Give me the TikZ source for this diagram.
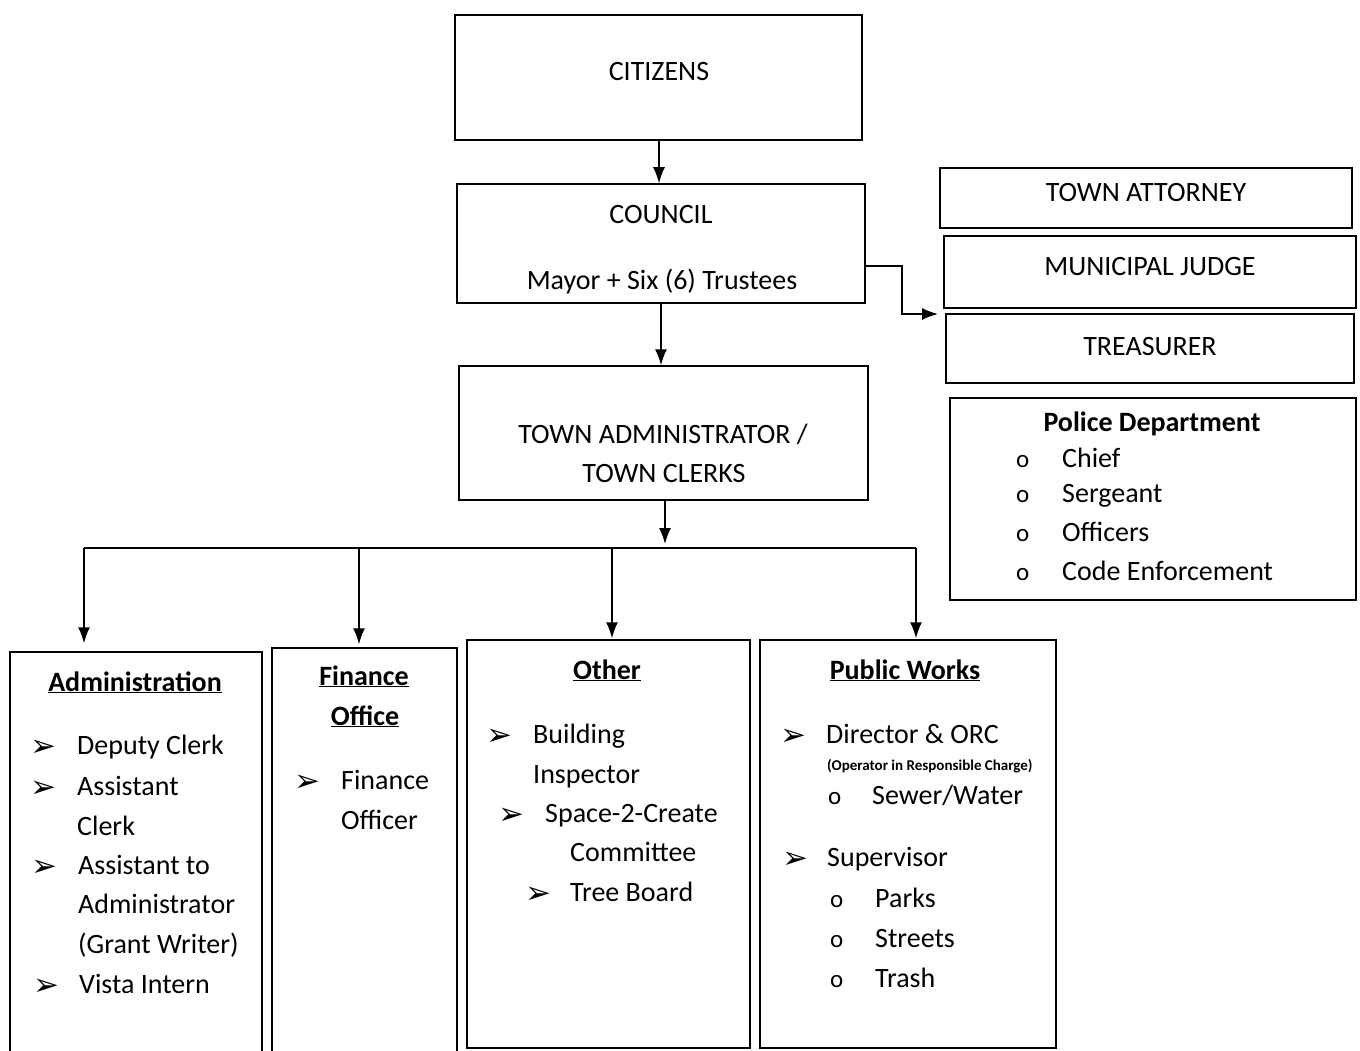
\documentclass[tikz,border=0pt]{standalone}
\usepackage{fontspec}
\setmainfont{Carlito}
\newfontfamily\symfont{DejaVu Sans}
\usetikzlibrary{arrows.meta}
\tikzset{
  box/.style={draw, line width=1.5pt, rectangle, inner sep=0pt},
  txt/.style={inner sep=0pt, font=\fontsize{28}{32}\selectfont},
  ctxt/.style={txt, anchor=base},
  ltxt/.style={txt, anchor=base west},
  hd/.style={ctxt, font=\fontsize{28}{32}\selectfont\bfseries},
  tri/.style={inner sep=0pt, anchor=base west, font=\fontsize{31}{34}\selectfont\symfont},
  dot/.style={inner sep=0pt, anchor=base west, font=\fontsize{25}{28}\selectfont},
  arr/.style={line width=1.5pt, -{Latex[length=16pt,width=12pt]}},
  ln/.style={line width=1.5pt}
}
\begin{document}
\begin{tikzpicture}[x=1pt,y=-1pt]
\useasboundingbox (0,0) rectangle (1360,1051);
% top chain
\node[box, minimum width=407pt, minimum height=125pt] (cit) at (658.5,77.5) {};
\node[ctxt] (citT) at (659,81) {CITIZENS};
\node[box, minimum width=408pt, minimum height=119pt] (cou) at (661,243.5) {};
\node[ctxt] (couT) at (661,224) {COUNCIL};
\node[ctxt] (couM) at (662,289) {Mayor + Six (6) Trustees};
\node[box, minimum width=409pt, minimum height=134pt] (ta) at (663.5,433) {};
\node[ctxt] (taT1) at (663,443) {TOWN ADMINISTRATOR /};
\node[ctxt] (taT2) at (664,482) {TOWN CLERKS};
% right column
\node[box, minimum width=412pt, minimum height=60pt] (att) at (1146,198) {};
\node[ctxt] (attT) at (1146,202) {TOWN ATTORNEY};
\node[box, minimum width=412pt, minimum height=72pt] (jud) at (1150,272) {};
\node[ctxt] (judT) at (1150,275) {MUNICIPAL JUDGE};
\node[box, minimum width=408pt, minimum height=69pt] (tre) at (1150,348.5) {};
\node[ctxt] (treT) at (1150,355) {TREASURER};
\node[box, minimum width=406pt, minimum height=202pt] (pol) at (1153,499) {};
\node[hd] (polT) at (1152,431) {Police Department};
\node[dot] (pb1) at (1016,467) {o}; \node[ltxt] (p1) at (1062,467) {Chief};
\node[dot] (pb2) at (1016,502) {o}; \node[ltxt] (p2) at (1062,502) {Sergeant};
\node[dot] (pb3) at (1016,541) {o}; \node[ltxt] (p3) at (1062,541) {Officers};
\node[dot] (pb4) at (1016,580) {o}; \node[ltxt] (p4) at (1062,580) {Code Enforcement};
% bottom boxes
\node[box, minimum width=252pt, minimum height=410pt] (adm) at (136,857) {};
\node[hd] (admT) at (135,691) {\underline{Administration}};
\node[tri] (ab1) at (30,756) {➢}; \node[ltxt] (a1) at (77,754) {Deputy Clerk};
\node[tri] (ab2) at (30,797) {➢}; \node[ltxt] (a2) at (77,795) {Assistant};
\node[ltxt] (a2b) at (77,835) {Clerk};
\node[tri] (ab3) at (31,876) {➢}; \node[ltxt] (a3) at (78,874) {Assistant to};
\node[ltxt] (a3b) at (78,913) {Administrator};
\node[ltxt] (a3c) at (78,953) {(Grant Writer)};
\node[tri] (ab4) at (33,995) {➢}; \node[ltxt] (a4) at (79,993) {Vista Intern};
\node[box, minimum width=185pt, minimum height=406pt] (fin) at (364.5,851) {};
\node[hd] (finT1) at (364,685) {\underline{Finance}};
\node[hd] (finT2) at (365,725) {\underline{Office}};
\node[tri] (fb1) at (294,791) {➢}; \node[ltxt] (f1) at (341,789) {Finance};
\node[ltxt] (f1b) at (341,829) {Officer};
\node[box, minimum width=283pt, minimum height=408pt] (oth) at (608.5,844) {};
\node[hd] (othT) at (607,679) {\underline{Other}};
\node[tri] (ob1) at (486,745) {➢}; \node[ltxt] (o1) at (533,743) {Building};
\node[ltxt] (o1b) at (533,783) {Inspector};
\node[tri] (ob2) at (498,824) {➢}; \node[ltxt] (o2) at (545,822) {Space-2-Create};
\node[ltxt] (o2b) at (570,861) {Committee};
\node[tri] (ob3) at (525,903) {➢}; \node[ltxt] (o3) at (570,901) {Tree Board};
\node[box, minimum width=296pt, minimum height=408pt] (pw) at (908,844) {};
\node[hd] (pwT) at (905,679) {\underline{Public Works}};
\node[tri] (wb1) at (780,745) {➢}; \node[ltxt] (w1) at (826,743) {Director \& ORC};
\node[inner sep=0pt, anchor=base west, font=\fontsize{15}{17}\selectfont\bfseries] (w1s) at (827,770) {(Operator in Responsible Charge)};
\node[dot] (wd1) at (828,804) {o}; \node[ltxt] (w2) at (872,804) {Sewer/Water};
\node[tri] (wb2) at (782,868) {➢}; \node[ltxt] (w3) at (827,866) {Supervisor};
\node[dot] (wd2) at (830,907) {o}; \node[ltxt] (w4) at (875,907) {Parks};
\node[dot] (wd3) at (830,947) {o}; \node[ltxt] (w5) at (875,947) {Streets};
\node[dot] (wd4) at (830,987) {o}; \node[ltxt] (w6) at (875,987) {Trash};
% connectors
\draw[arr] (cit.south -| 659,0) -- (cou.north -| 659,0);
\draw[arr] (cou.south) -- (cou.south |- ta.north);
\coordinate (sideTip) at (938,314);
\draw[arr] (cou.east |- 0,266) -- (902,266) |- (sideTip);
\coordinate (busTA) at (665,544);
\coordinate (busL) at (84,548);
\coordinate (busR) at (916,548);
\coordinate (busF) at (359,548);
\coordinate (busO) at (612,548);
\draw[arr] (ta.south -| busTA) -- (busTA);
\draw[ln] (busL) -- (busR);
\draw[arr, shorten >=8pt] (busL) -- (busL |- adm.north);
\draw[arr, shorten >=3pt] (busF) -- (busF |- fin.north);
\draw[arr, shorten >=1pt] (busO) -- (busO |- oth.north);
\draw[arr, shorten >=1pt] (busR) -- (busR |- pw.north);
\end{tikzpicture}
\end{document}
